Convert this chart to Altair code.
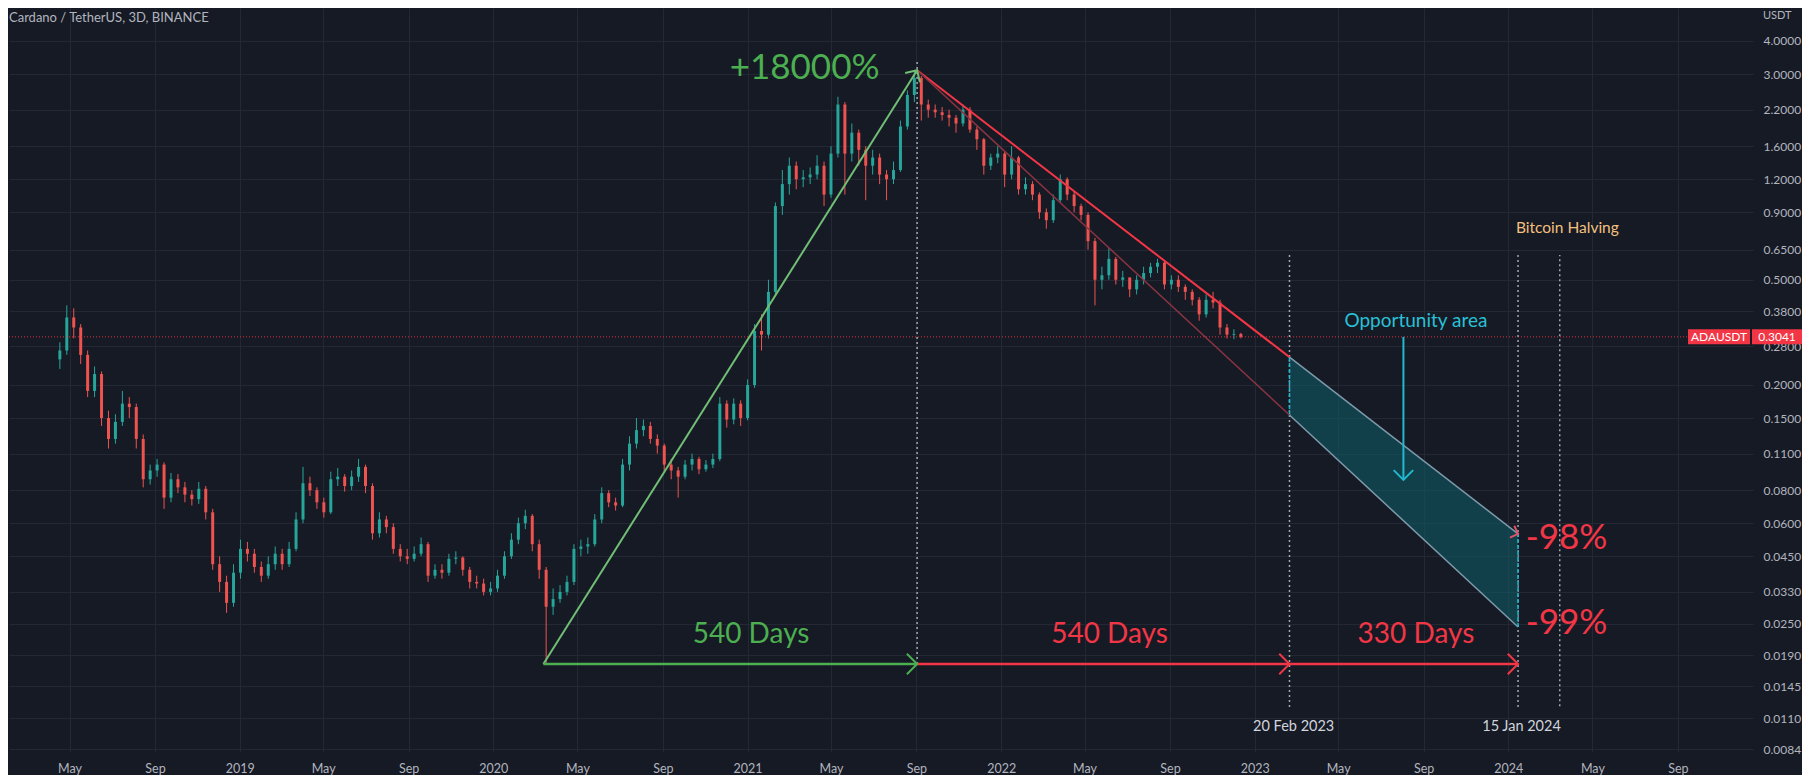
import altair as alt
import pandas as pd

BG = "#161a25"
GRID = "#242834"
UP = "#26a69a"
DOWN = "#ef5350"
RED = "#f23645"
GREEN = "#4caf50"
CYAN = "#22b8cf"
FONT = "Lato"

# ---------------- candle data (10-day candles) ----------------
candle_start = "2018-04-17"
first_open = 0.25
closes = [0.27, 0.36, 0.33, 0.26, 0.19, 0.22, 0.15, 0.125, 0.145, 0.17,
          0.165, 0.125, 0.088, 0.095, 0.1, 0.075, 0.088, 0.082, 0.077, 0.074,
          0.081, 0.066, 0.042, 0.036, 0.03, 0.039, 0.048, 0.046, 0.041, 0.038,
          0.042, 0.046, 0.042, 0.048, 0.062, 0.085, 0.08, 0.072, 0.066, 0.088,
          0.09, 0.083, 0.09, 0.098, 0.083, 0.055, 0.062, 0.058, 0.048, 0.045,
          0.044, 0.046, 0.05, 0.038, 0.04, 0.039, 0.044, 0.0445, 0.04, 0.036,
          0.0355, 0.033, 0.034, 0.038, 0.045, 0.052, 0.06, 0.064, 0.05, 0.04,
          0.029, 0.031, 0.033, 0.036, 0.048, 0.049, 0.05, 0.062, 0.078, 0.072,
          0.07, 0.1, 0.12, 0.135, 0.14, 0.125, 0.118, 0.1, 0.095, 0.09,
          0.1, 0.105, 0.096, 0.1, 0.105, 0.17, 0.148, 0.17, 0.15, 0.2,
          0.32, 0.31, 0.45, 0.95, 1.15, 1.35, 1.2, 1.22, 1.25, 1.35,
          1.05, 1.5, 2.3, 1.5, 1.8, 1.55, 1.35, 1.45, 1.25, 1.2,
          1.3, 1.9, 2.5, 2.9, 2.3, 2.2, 2.15, 2.1, 2.05, 1.95,
          2.2, 1.85, 1.7, 1.35, 1.45, 1.5, 1.25, 1.45, 1.1, 1.15,
          1.05, 0.9, 0.84, 1.0, 1.2, 1.05, 0.95, 0.88, 0.7, 0.5,
          0.52, 0.6, 0.5, 0.51, 0.46, 0.5, 0.53, 0.56, 0.58, 0.48,
          0.5, 0.47, 0.45, 0.42, 0.37, 0.42, 0.41, 0.33, 0.31, 0.312,
          0.3041]
highs = [0.29, 0.40, 0.39, 0.34, 0.27, 0.235, 0.225, 0.16, 0.155, 0.19,
         0.18, 0.17, 0.13, 0.1, 0.105, 0.102, 0.093, 0.092, 0.086, 0.08,
         0.086, 0.083, 0.068, 0.045, 0.038, 0.042, 0.052, 0.051, 0.048, 0.043,
         0.045, 0.049, 0.048, 0.051, 0.066, 0.098, 0.09, 0.082, 0.075, 0.094,
         0.097, 0.092, 0.095, 0.105, 0.1, 0.085, 0.066, 0.064, 0.06, 0.05,
         0.048, 0.049, 0.053, 0.051, 0.042, 0.042, 0.046, 0.047, 0.045, 0.041,
         0.038, 0.037, 0.036, 0.04, 0.047, 0.055, 0.063, 0.0675, 0.065, 0.052,
         0.041, 0.034, 0.035, 0.038, 0.05, 0.052, 0.053, 0.065, 0.082, 0.08,
         0.075, 0.105, 0.128, 0.15, 0.148, 0.145, 0.13, 0.12, 0.105, 0.098,
         0.104, 0.11, 0.107, 0.104, 0.11, 0.18, 0.175, 0.178, 0.175, 0.21,
         0.34, 0.37, 0.5, 0.98, 1.3, 1.45, 1.4, 1.3, 1.33, 1.48,
         1.4, 1.6, 2.46, 2.35, 1.95, 1.85, 1.6, 1.55, 1.5, 1.3,
         1.4, 2.0, 2.6, 3.1, 2.95, 2.4, 2.3, 2.25, 2.2, 2.1,
         2.3, 2.25, 1.9, 1.72, 1.5, 1.6, 1.52, 1.6, 1.47, 1.22,
         1.18, 1.07, 0.93, 1.05, 1.25, 1.22, 1.08, 0.97, 0.9, 0.72,
         0.56, 0.66, 0.61, 0.54, 0.51, 0.52, 0.56, 0.58, 0.6, 0.59,
         0.52, 0.52, 0.48, 0.46, 0.43, 0.44, 0.45, 0.42, 0.34, 0.325,
         0.315]
lows = [0.23, 0.26, 0.30, 0.24, 0.18, 0.18, 0.14, 0.115, 0.12, 0.14,
        0.15, 0.115, 0.082, 0.084, 0.09, 0.068, 0.072, 0.078, 0.072, 0.07,
        0.071, 0.062, 0.04, 0.033, 0.0275, 0.029, 0.037, 0.043, 0.039, 0.036,
        0.037, 0.04, 0.04, 0.041, 0.047, 0.06, 0.076, 0.068, 0.063, 0.065,
        0.083, 0.079, 0.08, 0.086, 0.078, 0.052, 0.053, 0.055, 0.046, 0.043,
        0.042, 0.043, 0.045, 0.036, 0.037, 0.037, 0.038, 0.042, 0.038, 0.034,
        0.034, 0.032, 0.032, 0.033, 0.037, 0.044, 0.05, 0.057, 0.047, 0.037,
        0.0176, 0.027, 0.03, 0.032, 0.035, 0.045, 0.046, 0.049, 0.06, 0.069,
        0.067, 0.069, 0.095, 0.115, 0.128, 0.12, 0.11, 0.094, 0.088, 0.075,
        0.088, 0.095, 0.092, 0.094, 0.097, 0.103, 0.138, 0.142, 0.14, 0.147,
        0.195, 0.27, 0.3, 0.44, 0.88, 1.05, 1.1, 1.12, 1.15, 1.2,
        0.95, 1.02, 1.45, 1.05, 1.4, 1.35, 1.0, 1.25, 1.15, 1.0,
        1.15, 1.28, 1.85, 2.35, 2.0, 2.05, 2.05, 2.0, 1.9, 1.8,
        1.9, 1.8, 1.55, 1.25, 1.3, 1.38, 1.12, 1.2, 1.05, 1.05,
        1.0, 0.85, 0.78, 0.82, 0.98, 1.0, 0.9, 0.84, 0.65, 0.40,
        0.46, 0.5, 0.48, 0.47, 0.43, 0.44, 0.48, 0.51, 0.53, 0.46,
        0.46, 0.45, 0.42, 0.4, 0.35, 0.36, 0.39, 0.31, 0.3, 0.298,
        0.3]

dates = pd.date_range(candle_start, periods=len(closes), freq="10D").strftime("%Y-%m-%d")
opens = [first_open] + closes[:-1]
candles = pd.DataFrame({"date": dates, "open": opens, "high": highs,
                        "low": lows, "close": closes})
candles["up"] = candles["close"] >= candles["open"]

# ---------------- annotation values ----------------
low_date, low_price = "2020-03-13", 0.0176
peak_date, peak_price = "2021-09-02", 3.10
feb_date, jan_date, halving_date = "2023-02-20", "2024-01-15", "2024-03-15"
upper_feb, lower_feb = 0.255, 0.154
upper_jan, lower_jan = 0.0547, 0.0243
last_price = 0.3041
opp_arrow_date, opp_arrow_end = "2023-08-03", 0.0875

y_ticks = [4.0, 3.0, 2.2, 1.6, 1.2, 0.9, 0.65, 0.5, 0.38, 0.28, 0.2, 0.15, 0.11,
           0.08, 0.06, 0.045, 0.033, 0.025, 0.019, 0.0145, 0.011, 0.0084]
x_tick_months = [(y, m) for y in range(2018, 2025) for m in (1, 5, 9) if (y, m) >= (2018, 5)]

# ---------------- scales / axes ----------------
x_scale = alt.Scale(type="utc",
                    domain=[alt.DateTime(year=2018, month=2, date=10, utc=True),
                            alt.DateTime(year=2024, month=12, date=11, utc=True)])
y_scale = alt.Scale(type="log", domain=[0.008184, 5.331], nice=False)

x_axis = alt.Axis(title=None, values=[alt.DateTime(year=y, month=m, date=1, utc=True) for y, m in x_tick_months],
                  labelExpr="utcmonth(datum.value) == 0 ? utcFormat(datum.value, '%Y') : utcFormat(datum.value, '%b')",
                  grid=True, gridColor=GRID, domain=False, ticks=False, tickSize=0,
                  labelPadding=10, labelColor="#b2b5be", labelFont=FONT, labelFontSize=12.5,
                  labelFlush=False, labelOverlap=False)
y_axis = alt.Axis(title=None, orient="right", values=y_ticks, format=".4f",
                  grid=True, gridColor=GRID, domain=False, ticks=False, tickSize=0,
                  labelPadding=10, labelColor="#b2b5be", labelFont=FONT, labelFontSize=12,
                  labelOverlap=False, labelFlush=False)


def X(field):
    return alt.X(f"{field}:T", scale=x_scale, axis=x_axis)


def Y(field):
    return alt.Y(f"{field}:Q", scale=y_scale, axis=y_axis)


def X2(field):
    return alt.X2(f"{field}:T")


def Y2(field):
    return alt.Y2(f"{field}:Q")


color_cond = alt.condition("datum.up", alt.value(UP), alt.value(DOWN))

wicks = alt.Chart(candles).mark_rule(strokeWidth=1).encode(
    x=X("date"), y=Y("low"), y2=Y2("high"), color=color_cond)
bodies = alt.Chart(candles).mark_bar(width=3).encode(
    x=X("date"), y=Y("open"), y2=Y2("close"), color=color_cond)

# price line
price_df = pd.DataFrame({"p": [last_price]})
price_line = alt.Chart(price_df).mark_rule(color=RED, strokeDash=[1, 2], strokeWidth=1, opacity=0.9).encode(y=Y("p"))

# segments
def seg_chart(rows, **kw):
    df = pd.DataFrame(rows, columns=["d1", "p1", "d2", "p2"])
    return alt.Chart(df).mark_rule(**kw).encode(x=X("d1"), x2=X2("d2"), y=Y("p1"), y2=Y2("p2"))

green_diag = seg_chart([(low_date, low_price, peak_date, peak_price)], color="#70bf74", strokeWidth=2)
green_h = seg_chart([(low_date, low_price, peak_date, low_price)], color=GREEN, strokeWidth=2.5)
red_h = seg_chart([(peak_date, low_price, feb_date, low_price), (feb_date, low_price, jan_date, low_price)],
                  color=RED, strokeWidth=2.5)
red_trend = seg_chart([(peak_date, peak_price, feb_date, upper_feb)], color=RED, strokeWidth=2)
dark_trend = seg_chart([(peak_date, peak_price, feb_date, lower_feb)], color="#8a3441", strokeWidth=1.5)

vlines = seg_chart([(peak_date, low_price, peak_date, 3.39),
                    (feb_date, 0.0121, feb_date, 0.63),
                    (jan_date, 0.0121, jan_date, 0.63),
                    (halving_date, 0.0122, halving_date, 0.62)],
                   color="#a3a6af", strokeWidth=1.5, strokeDash=[2, 3])

# opportunity area
area_df = pd.DataFrame({"d": [feb_date, jan_date], "top": [upper_feb, upper_jan], "bot": [lower_feb, lower_jan]})
area = alt.Chart(area_df).mark_area(color="#0f5a66", opacity=0.6).encode(x=X("d"), y=Y("top"), y2=Y2("bot"))
area_edges = seg_chart([(feb_date, upper_feb, jan_date, upper_jan), (feb_date, lower_feb, jan_date, lower_jan)],
                       color="#7d9aab", strokeWidth=1.5)
area_sides = seg_chart([(feb_date, lower_feb, feb_date, upper_feb), (jan_date, lower_jan, jan_date, upper_jan)],
                       color=CYAN, strokeWidth=1.5, strokeDash=[4, 2])
opp_arrow = seg_chart([(opp_arrow_date, last_price, opp_arrow_date, opp_arrow_end)], color=CYAN, strokeWidth=2)

# chevron arrowheads
chev_df = pd.DataFrame({
    "d": [peak_date, peak_date, feb_date, jan_date, opp_arrow_date, jan_date],
    "p": [peak_price, low_price, low_price, low_price, opp_arrow_end, upper_jan],
    "ang": [302, 0, 0, 0, 90, 20],
    "col": ["#70bf74", GREEN, RED, RED, CYAN, "#e0526a"],
    "sz": [300, 420, 420, 420, 380, 160],
})
chevrons = alt.Chart(chev_df).mark_point(shape="M-1,-1L0,0L-1,1", filled=False, strokeWidth=2, opacity=1).encode(
    x=X("d"), y=Y("p"), angle=alt.Angle("ang:Q", scale=None), color=alt.Color("col:N", scale=None),
    size=alt.Size("sz:Q", scale=None))

# texts
def text_chart(rows, **kw):
    df = pd.DataFrame(rows, columns=["d", "p", "t"])
    return alt.Chart(df).mark_text(font=FONT, baseline="middle", **kw).encode(x=X("d"), y=Y("p"), text="t:N")

t_pct = text_chart([("2021-03-24", 3.16, "+18000%")], color=GREEN, fontSize=35)
t_green_days = text_chart([("2021-01-06", 0.02265, "540 Days")], color=GREEN, fontSize=28)
t_red_days = text_chart([("2022-06-06", 0.02265, "540 Days"), ("2023-08-21", 0.02265, "330 Days")],
                        color=RED, fontSize=28)
t_loss = text_chart([("2024-01-26", 0.0527, "-98%"), ("2024-01-26", 0.0252, "-99%")],
                    color=RED, fontSize=35, align="left")
t_opp = text_chart([("2023-08-21", 0.349, "Opportunity area")], color="#29c0d6", fontSize=19)
t_halving = text_chart([("2024-03-26", 0.785, "Bitcoin Halving")], color="#f3c07e", fontSize=15.5)
t_dates = text_chart([("2023-02-26", 0.01016, "20 Feb 2023"), ("2024-01-20", 0.01016, "15 Jan 2024")],
                     color="#d1d4dc", fontSize=14.5)

# header texts
one = pd.DataFrame({"a": [0]})
title_text = alt.Chart(one).mark_text(text="Cardano / TetherUS, 3D, BINANCE", font=FONT, fontSize=13,
                                      color="#b2b5be", align="left", baseline="middle").encode(
    x=alt.value(0), y=alt.value(10))
usdt_text = alt.Chart(one).mark_text(text="USDT", font=FONT, fontSize=11, color="#b2b5be",
                                     align="left", baseline="middle").encode(x=alt.value(1754), y=alt.value(8))

# last price tag on the price scale
tag_half = 1.0675
tag_df = pd.DataFrame({"lo": [last_price / tag_half], "hi": [last_price * tag_half], "p": [last_price]})
tag_name = alt.Chart(tag_df).mark_rect(color=RED).encode(
    x=alt.value(1679), x2=alt.value(1741), y=Y("lo"), y2=Y2("hi"))
tag_val = alt.Chart(tag_df).mark_rect(color=RED).encode(
    x=alt.value(1743), x2=alt.value(1793), y=Y("lo"), y2=Y2("hi"))
tag_name_t = alt.Chart(tag_df).mark_text(text="ADAUSDT", font=FONT, fontSize=12, color="white",
                                         baseline="middle").encode(x=alt.value(1710), y=Y("p"))
tag_val_t = alt.Chart(tag_df).mark_text(text="0.3041", font=FONT, fontSize=12, color="white",
                                        baseline="middle").encode(x=alt.value(1768), y=Y("p"))

chart = alt.layer(
    wicks, bodies, price_line,
    vlines,
    area, area_edges, area_sides,
    green_diag, green_h, red_h, red_trend, dark_trend, opp_arrow, chevrons,
    t_pct, t_green_days, t_red_days, t_loss, t_opp, t_halving, t_dates,
    title_text, usdt_text,
    tag_name, tag_val, tag_name_t, tag_val_t,
).properties(
    width=1744, height=744, padding=0, background=BG
).configure_view(stroke=None)

chart.save("out.html", embed_options={"renderer": "svg", "actions": False})
